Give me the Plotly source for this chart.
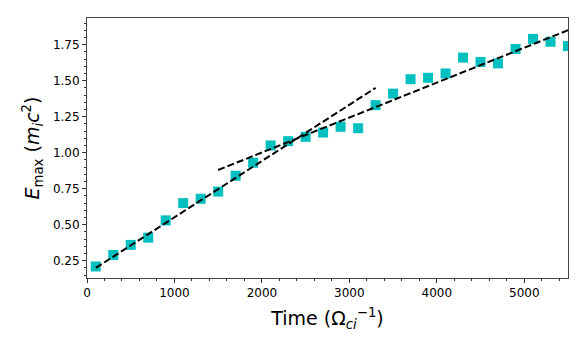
import plotly.graph_objects as go

# time samples (1/Omega_ci) and measured max energy (m_i c^2)
time = [100, 300, 500, 700, 900, 1100, 1300, 1500, 1700, 1900,
        2100, 2300, 2500, 2700, 2900, 3100, 3300, 3500, 3700, 3900,
        4100, 4300, 4500, 4700, 4900, 5100, 5300, 5500]
emax = [0.21, 0.29, 0.36, 0.41, 0.53, 0.65, 0.68, 0.73, 0.84, 0.93,
        1.05, 1.08, 1.11, 1.14, 1.18, 1.17, 1.33, 1.41, 1.51, 1.52,
        1.55, 1.66, 1.63, 1.62, 1.72, 1.79, 1.77, 1.74]

# linear fits (end points)
fit1_t = [100, 3300]
fit1_e = [0.20, 1.45]
fit2_t = [1500, 5500]
fit2_e = [0.88, 1.85]

fig = go.Figure()
fig.add_trace(go.Scatter(x=time, y=emax, mode="markers",
                         marker=dict(symbol="square", size=10, color="#00bfbf"),
                         showlegend=False))
for t, e in [(fit1_t, fit1_e), (fit2_t, fit2_e)]:
    fig.add_trace(go.Scatter(x=t, y=e, mode="lines",
                             line=dict(color="black", width=2, dash="7px,3px"),
                             showlegend=False))

axis_common = dict(showline=True, mirror=True, linecolor="#444", linewidth=1,
                   ticks="outside", ticklen=4, tickwidth=1, tickcolor="#333",
                   showgrid=False, zeroline=False, automargin=False,
                   tickfont=dict(family="DejaVu Sans", size=12, color="black"))

fig.update_xaxes(range=[0, 5500], dtick=1000, tick0=0,
                 minor=dict(dtick=200, ticklen=2, tickcolor="#333", ticks="outside"),
                 title=dict(text="Time (Ω<sub><i>ci</i></sub><sup>−1</sup>)",
                            font=dict(family="DejaVu Sans", size=19, color="black"),
                            standoff=12),
                 **axis_common)
fig.update_yaxes(range=[0.13, 1.935], dtick=0.25, tick0=0, tickformat=".2f",
                 minor=dict(dtick=0.05, ticklen=2, tickcolor="#333", ticks="outside"),
                 title=dict(text="<i>E</i><sub>max</sub> (<i>m<sub>i</sub>c</i><sup>2</sup>)",
                            font=dict(family="DejaVu Sans", size=19, color="black"),
                            standoff=8),
                 **axis_common)

# page body has an 8px margin, so the figure is sized to fit the window
fig.update_layout(width=578, height=344,
                  margin=dict(l=79, r=18, t=10, b=74),
                  paper_bgcolor="white", plot_bgcolor="white")

fig.write_html("out.html")
